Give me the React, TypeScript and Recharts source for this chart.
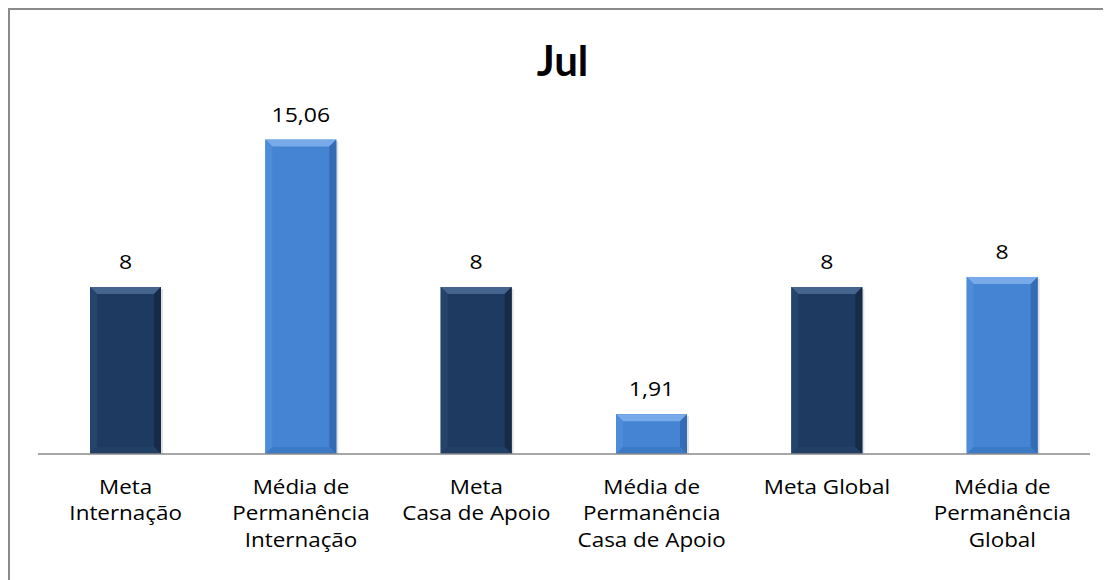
import React from "react";
import { BarChart, Bar, XAxis, YAxis, Cell, LabelList } from "recharts";

const categories = [
  "Meta\nInternação",
  "Média de\nPermanência\nInternação",
  "Meta\nCasa de Apoio",
  "Média de\nPermanência\nCasa de Apoio",
  "Meta Global",
  "Média de\nPermanência\nGlobal",
];
const values = [8, 15.06, 8, 1.91, 8, 8.48];
const valueLabels = ["8", "15,06", "8", "1,91", "8", "8"];
const kinds = ["meta", "media", "meta", "media", "meta", "media"];

const data = categories.map((c, i) => ({ name: c, value: values[i], label: valueLabels[i], kind: kinds[i] }));

const PALETTE: Record<string, { base: string; top: string; left: string; right: string; bottom: string }> = {
  meta: { base: "#1F3A60", top: "#45658F", left: "#25446C", right: "#152B48", bottom: "#223F66" },
  media: { base: "#4484D2", top: "#78AAEA", left: "#4D8CD8", right: "#336CB4", bottom: "#3C7AC6" },
};

const FONT = "'Open Sans', sans-serif";
const STRETCH = 1.15;

const BevelBar = (props: any) => {
  const { x, y, width: w, height: h, payload } = props;
  if (!h || h <= 0) return null;
  const c = PALETTE[payload.kind];
  const b = Math.min(7, h / 2);
  const p = (pts: number[][]) => pts.map((q) => q.join(",")).join(" ");
  return (
    <g>
      <rect x={x + 2} y={y + 2} width={w} height={h - 2} fill="#000" opacity={0.12} />
      <rect x={x} y={y} width={w} height={h} fill={c.base} />
      <polygon points={p([[x, y], [x + w, y], [x + w - b, y + b], [x + b, y + b]])} fill={c.top} />
      <polygon points={p([[x, y], [x + b, y + b], [x + b, y + h - b], [x, y + h]])} fill={c.left} />
      <polygon points={p([[x + w, y], [x + w, y + h], [x + w - b, y + h - b], [x + w - b, y + b]])} fill={c.right} />
      <polygon points={p([[x, y + h], [x + w, y + h], [x + w - b, y + h - b], [x + b, y + h - b]])} fill={c.bottom} />
    </g>
  );
};

const Tick = (props: any) => {
  const { x, y, payload } = props;
  const lines = String(payload.value).split("\n");
  return (
    <g transform={`translate(${x},${y}) scale(${STRETCH},1)`}>
      <text x={0} y={0} textAnchor="middle" fontFamily={FONT} fontSize={19.5} fill="#000">
        {lines.map((l, i) => (
          <tspan key={i} x={0} dy={i === 0 ? 38 : 26.5}>
            {l}
          </tspan>
        ))}
      </text>
    </g>
  );
};

const ValueLabel = (props: any) => {
  const { x, y, width, value } = props;
  return (
    <g transform={`translate(${x + width / 2},${y - 18}) scale(${STRETCH},1)`}>
      <text x={0} y={0} textAnchor="middle" fontFamily={FONT} fontSize={20} fill="#000">
        {value}
      </text>
    </g>
  );
};

export default function App() {
  return (
    <div
      style={{
        position: "relative",
        width: 1101,
        height: 570,
        borderLeft: "2px solid #8a8a8a",
        borderTop: "2px solid #8a8a8a",
        background: "#fff",
        overflow: "hidden",
      }}
    >
      <div
        style={{
          position: "absolute",
          left: 6,
          width: 1093,
          top: 25,
          textAlign: "center",
          fontFamily: "Lato, sans-serif",
          fontWeight: 700,
          fontSize: 42,
          lineHeight: "50px",
          color: "#000",
        }}
      >
        Jul
      </div>
      <BarChart
        width={1101}
        height={570}
        data={data}
        margin={{ top: 110, right: 21, left: 28, bottom: 0 }}
        barCategoryGap="30%"
      >
        <YAxis hide domain={[0, 16]} type="number" />
        <XAxis
          dataKey="name"
          height={126}
          interval={0}
          tickLine={false}
          tickSize={0}
          axisLine={{ stroke: "#8a8a8a", strokeWidth: 1.5 }}
          tick={<Tick />}
        />
        <Bar dataKey="value" barSize={71} isAnimationActive={false} shape={<BevelBar />}>
          {data.map((d, i) => (
            <Cell key={i} fill={PALETTE[d.kind].base} />
          ))}
          <LabelList dataKey="label" content={<ValueLabel />} />
        </Bar>
      </BarChart>
    </div>
  );
}
